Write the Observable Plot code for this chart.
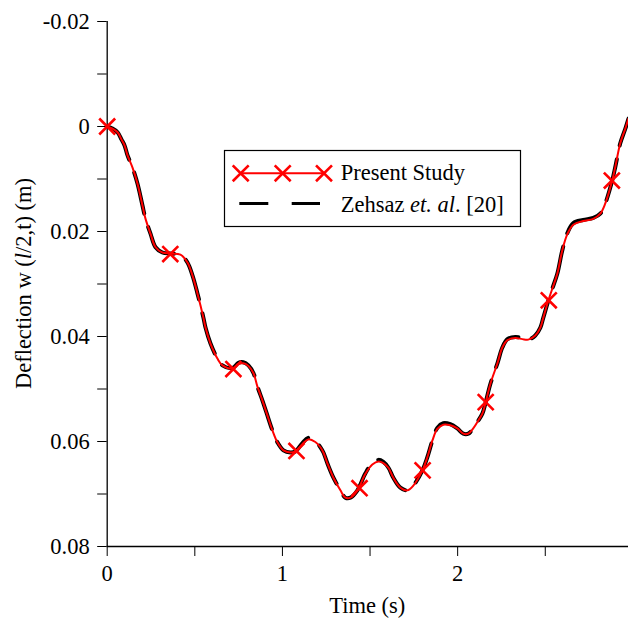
<!DOCTYPE html>
<html><head><meta charset="utf-8">
<script src="https://cdn.jsdelivr.net/npm/d3@7"></script>
<script src="https://cdn.jsdelivr.net/npm/@observablehq/plot@0.6"></script>
<style>
body{margin:0;background:#fff;}
#chart{position:relative;width:628px;height:619px;overflow:hidden;}
</style></head><body><div id="chart"></div>
<script>
// time (s)
const timeS = [0, 0.030, 0.059, 0.082, 0.099, 0.116, 0.144, 0.173, 0.201, 0.218,
  0.247, 0.276, 0.315, 0.361, 0.418, 0.458, 0.487, 0.515, 0.549, 0.561,
  0.589, 0.629, 0.658, 0.715, 0.749, 0.777, 0.806, 0.835, 0.857, 0.886,
  0.909, 0.943, 0.972, 1.006, 1.046, 1.074, 1.114, 1.148, 1.188, 1.217,
  1.234, 1.257, 1.291, 1.331, 1.359, 1.388, 1.428, 1.473, 1.513, 1.548,
  1.576, 1.605, 1.633, 1.673, 1.713, 1.747, 1.799, 1.827, 1.856, 1.884,
  1.918, 1.958, 1.998, 2.032, 2.061, 2.089, 2.118, 2.141, 2.158, 2.187,
  2.227, 2.255, 2.284, 2.329, 2.369, 2.403, 2.443, 2.472, 2.489, 2.518,
  2.540, 2.569, 2.597, 2.626, 2.660, 2.717, 2.774, 2.814, 2.842, 2.882,
  2.899, 2.928, 2.957, 2.975];
// Present Study deflection (m)
const presentW = [0, 0.0004, 0.0011, 0.0025, 0.0036, 0.0055, 0.0078, 0.0109, 0.0150, 0.0175,
  0.0204, 0.0230, 0.0240, 0.0242, 0.0244, 0.0259, 0.0284, 0.0318, 0.0364, 0.0383,
  0.0413, 0.0442, 0.0455, 0.0461, 0.0452, 0.0451, 0.0456, 0.0470, 0.0495, 0.0522,
  0.0545, 0.0579, 0.0602, 0.0617, 0.0621, 0.0619, 0.0605, 0.0596, 0.0601, 0.0611,
  0.0621, 0.0642, 0.0669, 0.0693, 0.0707, 0.0707, 0.0693, 0.0662, 0.0644, 0.0638,
  0.0641, 0.0650, 0.0669, 0.0688, 0.0693, 0.0684, 0.0655, 0.0630, 0.0598, 0.0576,
  0.0568, 0.0569, 0.0575, 0.0585, 0.0585, 0.0575, 0.0560, 0.0547, 0.0528, 0.0490,
  0.0451, 0.0421, 0.0407, 0.0403, 0.0405, 0.0406, 0.0398, 0.0383, 0.0364, 0.0331,
  0.0309, 0.0280, 0.0236, 0.0205, 0.0187, 0.0180, 0.0176, 0.0166, 0.0147, 0.0103,
  0.0078, 0.0032, 0.0004, -0.0015];
// Zehsaz et al. [20] deflection (m)
const zehsazW = [0, 0.0004, 0.0011, 0.0025, 0.0036, 0.0055, 0.0078, 0.0109, 0.0150, 0.0175,
  0.0204, 0.0230, 0.0240, 0.0242, 0.0244, 0.0259, 0.0284, 0.0318, 0.0364, 0.0383,
  0.0413, 0.0442, 0.0455, 0.0460, 0.0450, 0.0449, 0.0455, 0.0470, 0.0495, 0.0522,
  0.0545, 0.0579, 0.0602, 0.0617, 0.0621, 0.0619, 0.0603, 0.0593, 0.0599, 0.0611,
  0.0621, 0.0642, 0.0669, 0.0693, 0.0707, 0.0707, 0.0693, 0.0661, 0.0641, 0.0635,
  0.0639, 0.0650, 0.0669, 0.0688, 0.0693, 0.0684, 0.0655, 0.0630, 0.0598, 0.0574,
  0.0565, 0.0567, 0.0575, 0.0585, 0.0585, 0.0575, 0.0560, 0.0547, 0.0528, 0.0490,
  0.0451, 0.0421, 0.0405, 0.0401, 0.0403, 0.0406, 0.0398, 0.0383, 0.0364, 0.0331,
  0.0309, 0.0280, 0.0236, 0.0203, 0.0184, 0.0178, 0.0174, 0.0166, 0.0147, 0.0103,
  0.0078, 0.0032, 0.0004, -0.0015];
// Present Study markers
const markerT = [0, 0.36, 0.72, 1.08, 1.44, 1.80, 2.16, 2.52, 2.88];
const markerW = [0, 0.0243, 0.0462, 0.0618, 0.0689, 0.0655, 0.0525, 0.0331, 0.0103];

const yMajorTicks = [-0.02, 0, 0.02, 0.04, 0.06, 0.08];
const yTickLabels = ["-0.02", "0", "0.02", "0.04", "0.06", "0.08"];
const yMinorTicks = [-0.01, 0.01, 0.03, 0.05, 0.07];
const xMajorTicks = [0, 1, 2];
const xTickLabels = ["0", "1", "2"];
const xMinorTicks = [0.5, 1.5, 2.5];
const seriesNames = ["Present Study", "Zehsaz ", "et. al", ". [20]"];
const xLabel = "Time (s)";

const present = timeS.map((t, i) => ({t, w: presentW[i]}));
const zehsaz = timeS.map((t, i) => ({t, w: zehsazW[i]}));
const markers = markerT.map((t, i) => ({t, w: markerW[i]}));

const font = "'Liberation Serif', 'Times New Roman', serif";

const svg = Plot.plot({
  width: 628, height: 619,
  marginLeft: 106.7, marginRight: 0, marginTop: 21, marginBottom: 73,
  style: {fontFamily: font, fontSize: "22px", background: "white", color: "black", overflow: "hidden"},
  x: {domain: [0, 2.975], label: null},
  y: {domain: [-0.02, 0.08], reverse: true, label: null},
  marks: [
    Plot.axisY(yMajorTicks, {tickSize: 9.5, tickPadding: 8, tickFormat: d => yTickLabels[yMajorTicks.indexOf(d)], fontSize: 22.5, label: null, stroke: "black"}),
    Plot.axisY(yMinorTicks, {tickSize: 9.5, tickFormat: () => "", label: null, stroke: "black"}),
    Plot.axisX(xMajorTicks, {tickSize: 10, tickPadding: 9, tickFormat: d => xTickLabels[xMajorTicks.indexOf(d)], fontSize: 22.5, label: null, stroke: "black"}),
    Plot.axisX(xMinorTicks, {tickSize: 10, tickFormat: () => "", label: null, stroke: "black"}),
    Plot.ruleX([0], {stroke: "black", strokeWidth: 1.3}),
    Plot.ruleY([0.08], {stroke: "black", strokeWidth: 1.3}),
    Plot.line(zehsaz, {x: "t", y: "w", stroke: "black", strokeWidth: 4, strokeDasharray: "42,14", curve: "catmull-rom"}),
    Plot.line(present, {x: "t", y: "w", stroke: "#ff0000", strokeWidth: 2, curve: "catmull-rom"}),
    Plot.dot(markers, {x: "t", y: "w", symbol: "times", r: 7.3, stroke: "#ff0000", strokeWidth: 2.6})
  ]
});

const s = d3.select(svg);
// axis titles
s.append("text")
  .attr("x", 367.3).attr("y", 613)
  .attr("text-anchor", "middle")
  .attr("font-family", font).attr("font-size", 22.5).attr("fill", "black")
  .text(xLabel);
const yl = s.append("text")
  .attr("transform", "translate(31,283.5) rotate(-90)")
  .attr("text-anchor", "middle")
  .attr("font-family", font).attr("font-size", 22.5).attr("fill", "black");
yl.append("tspan").text("Deflection w (");
yl.append("tspan").attr("font-style", "italic").text("l");
yl.append("tspan").text("/2,t) (m)");

// legend
const lg = s.append("g").attr("text-anchor", "start");
lg.append("rect").attr("x", 224.5).attr("y", 150.5).attr("width", 296).attr("height", 76)
  .attr("fill", "white").attr("stroke", "black").attr("stroke-width", 1.2);
lg.append("line").attr("x1", 240.7).attr("x2", 324).attr("y1", 173.3).attr("y2", 173.3)
  .attr("stroke", "#ff0000").attr("stroke-width", 2);
const sym = d3.symbol(d3.symbolTimes, 168);
[240.7, 282.7, 324].forEach(x => {
  lg.append("path").attr("d", sym()).attr("transform", `translate(${x},173.3)`)
    .attr("fill", "none").attr("stroke", "#ff0000").attr("stroke-width", 2.6);
});
lg.append("line").attr("x1", 239.3).attr("x2", 320).attr("y1", 203.5).attr("y2", 203.5)
  .attr("stroke", "black").attr("stroke-width", 3).attr("stroke-dasharray", "29,23.4");
lg.append("text").attr("x", 340.7).attr("y", 180).attr("text-anchor", "start")
  .attr("font-family", font).attr("font-size", 22.5).attr("fill", "black").text(seriesNames[0]);
const t2 = lg.append("text").attr("x", 340.7).attr("y", 212).attr("text-anchor", "start")
  .attr("font-family", font).attr("font-size", 22.5).attr("fill", "black");
t2.append("tspan").text(seriesNames[1]);
t2.append("tspan").attr("font-style", "italic").text(seriesNames[2]);
t2.append("tspan").text(seriesNames[3]);

document.getElementById("chart").appendChild(svg);
</script></body></html>
